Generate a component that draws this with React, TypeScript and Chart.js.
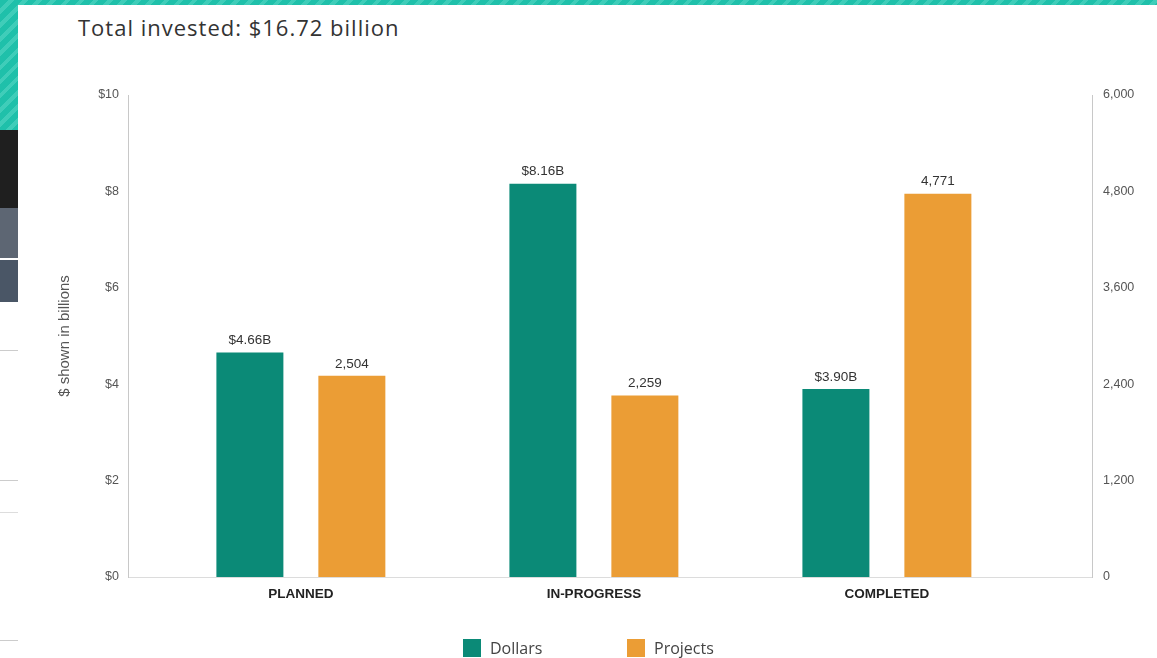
import React, { useEffect, useRef } from "react";
import { Chart, registerables } from "chart.js";

Chart.register(...registerables);

const categories = ["PLANNED", "IN-PROGRESS", "COMPLETED"];
const categoryIndex = [0, 1, 2];
const dollarsBillions = [4.66, 8.16, 3.9];
const projectCounts = [2504, 2259, 4771];
const seriesNames = ["Dollars", "Projects"];
const seriesColors = ["#0b8a77", "#eb9d35"];
const titleText = "Total invested: $16.72 billion";
const leftAxisTitle = "$ shown in billions";
const xRange = [-0.59, 2.7];

const ARIAL = "'Liberation Sans', Arial, sans-serif";
const SANS = "'Open Sans', 'Noto Sans', sans-serif";

const formatDollars = (v: number) => "$" + v.toFixed(2) + "B";
const formatCount = (v: number) => v.toLocaleString("en-US");

const valueLabelPlugin = {
  id: "valueLabels",
  afterDatasetsDraw(chart: any) {
    const ctx = chart.ctx;
    ctx.save();
    ctx.font = `13.5px ${ARIAL}`;
    ctx.fillStyle = "#333";
    ctx.textAlign = "center";
    ctx.textBaseline = "middle";
    chart.data.datasets.forEach((ds: any, di: number) => {
      const meta = chart.getDatasetMeta(di);
      meta.data.forEach((el: any, i: number) => {
        const raw = ds.data[i].y;
        const txt = di === 0 ? formatDollars(raw) : formatCount(raw);
        ctx.fillText(txt, el.x, el.y - 12);
      });
    });
    ctx.restore();
  },
};

export default function App() {
  const ref = useRef<HTMLCanvasElement>(null);

  useEffect(() => {
    document.body.style.margin = "0";
    const chart = new Chart(ref.current!, {
      type: "bar",
      data: {
        datasets: [
          {
            label: seriesNames[0],
            data: categoryIndex.map((x, i) => ({ x, y: dollarsBillions[i] })),
            backgroundColor: seriesColors[0],
            yAxisID: "y",
            categoryPercentage: 0.696,
            barPercentage: 0.657,
          },
          {
            label: seriesNames[1],
            data: categoryIndex.map((x, i) => ({ x, y: projectCounts[i] })),
            backgroundColor: seriesColors[1],
            yAxisID: "y1",
            categoryPercentage: 0.696,
            barPercentage: 0.657,
          },
        ],
      } as any,
      options: {
        responsive: false,
        animation: false,
        layout: { padding: { left: 0, right: 0, top: 90, bottom: 46 } },
        plugins: {
          legend: { display: false },
          tooltip: { enabled: false },
        },
        scales: {
          x: {
            type: "linear",
            bounds: "data",
            offset: false,
            min: xRange[0],
            max: xRange[1],
            grid: { display: false, drawTicks: false, offset: false },
            border: { display: true, color: "#dcdcdc", width: 1 },
            ticks: {
              autoSkip: false,
              maxRotation: 0,
              minRotation: 0,
              padding: 9,
              color: "#222",
              font: { family: ARIAL, size: 13.5, weight: "bold" },
              callback: (v: any) => {
                const k = Math.round(Number(v));
                return categories[k] ?? "";
              },
            },
            afterDataLimits: (s: any) => {
              s.min = xRange[0];
              s.max = xRange[1];
            },
            afterBuildTicks: (s: any) => {
              s.ticks = categoryIndex.map((value) => ({ value }));
            },
            afterFit: (s: any) => {
              s.height = 35;
            },
          },
          y: {
            position: "left",
            min: 0,
            max: 10,
            grid: { display: false, drawTicks: false },
            border: { display: true, color: "#c8c8c8", width: 1 },
            ticks: {
              stepSize: 2,
              padding: 9,
              color: "#555",
              font: { family: ARIAL, size: 12.5 },
              callback: (v: any) => "$" + v,
            },
            title: {
              display: true,
              text: leftAxisTitle,
              color: "#555",
              font: { family: ARIAL, size: 15 },
              padding: { top: 38, bottom: 0 },
            },
            afterFit: (s: any) => {
              s.width = 110;
            },
          },
          y1: {
            position: "right",
            min: 0,
            max: 6000,
            grid: { display: false, drawTicks: false },
            border: { display: true, color: "#c8c8c8", width: 1 },
            ticks: {
              stepSize: 1200,
              padding: 11,
              color: "#555",
              font: { family: ARIAL, size: 12.5 },
              callback: (v: any) => formatCount(Number(v)),
            },
            afterFit: (s: any) => {
              s.width = 65;
            },
          },
        },
      } as any,
      plugins: [valueLabelPlugin],
    });
    return () => chart.destroy();
  }, []);

  const stripe =
    "repeating-linear-gradient(135deg, #1fc0aa 0px, #1fc0aa 6px, #3fcdb9 6px, #3fcdb9 10px)";

  return (
    <div
      style={{
        position: "relative",
        width: 1157,
        height: 658,
        overflow: "hidden",
        background: "#fff",
      }}
    >
      <div style={{ position: "absolute", left: 0, top: 0, width: 1157, height: 5, background: stripe }} />
      <div style={{ position: "absolute", left: 0, top: 0, width: 18, height: 130, background: stripe }} />
      <div style={{ position: "absolute", left: 0, top: 130, width: 18, height: 78, background: "#1f1f1f" }} />
      <div style={{ position: "absolute", left: 0, top: 208, width: 18, height: 50, background: "#5d6673" }} />
      <div style={{ position: "absolute", left: 0, top: 260, width: 18, height: 42, background: "#4a5666" }} />
      <div style={{ position: "absolute", left: 0, top: 350, width: 18, height: 1, background: "#ccc" }} />
      <div style={{ position: "absolute", left: 0, top: 480, width: 18, height: 1, background: "#ccc" }} />
      <div style={{ position: "absolute", left: 0, top: 512, width: 18, height: 1, background: "#ddd" }} />
      <div style={{ position: "absolute", left: 0, top: 640, width: 18, height: 1, background: "#ccc" }} />
      <div style={{ position: "absolute", left: 18, top: 5, width: 1139, height: 653, background: "#fff" }}>
        <div
          style={{
            position: "absolute",
            left: 60,
            top: 9,
            fontFamily: SANS,
            fontSize: 22,
            letterSpacing: 1,
            lineHeight: "26px",
            color: "#333",
            whiteSpace: "nowrap",
          }}
        >
          {titleText}
        </div>
        <canvas
          ref={ref}
          width={1139}
          height={653}
          style={{ position: "absolute", left: 0, top: 0, width: 1139, height: 653 }}
        />
        {seriesNames.map((name, i) => (
          <div
            key={name}
            style={{
              position: "absolute",
              left: i === 0 ? 445 : 609,
              top: 634,
              display: "flex",
              alignItems: "center",
              fontFamily: SANS,
              fontSize: 16,
              lineHeight: "18px",
              color: "#444",
              whiteSpace: "nowrap",
            }}
          >
            <span style={{ display: "inline-block", width: 18, height: 18, background: seriesColors[i], marginRight: 9 }} />
            {name}
          </div>
        ))}
      </div>
    </div>
  );
}
